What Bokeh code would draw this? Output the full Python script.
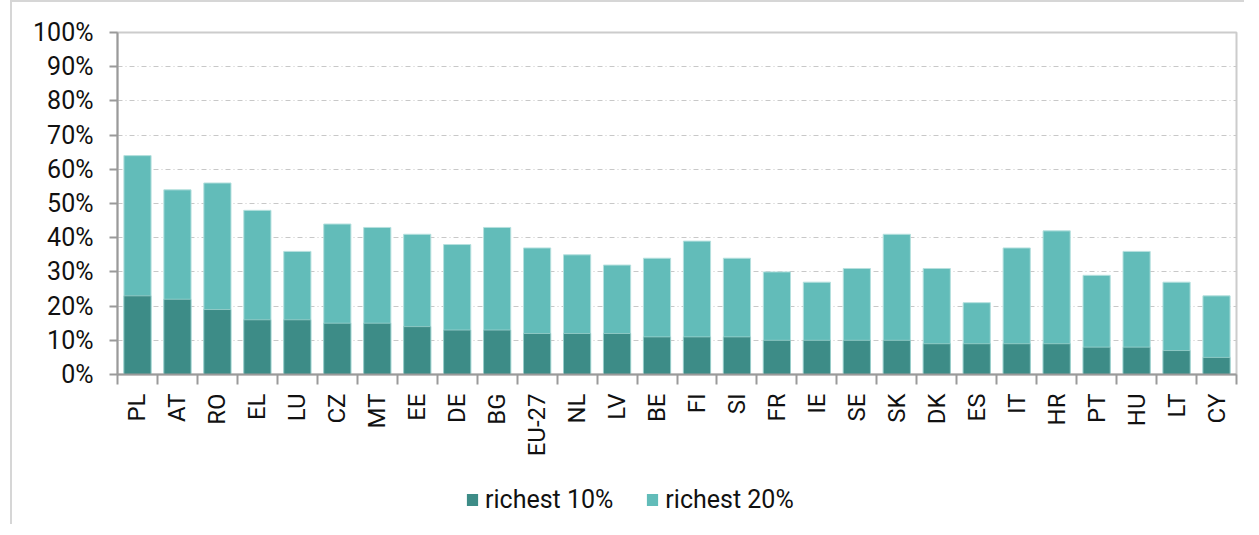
from bokeh.plotting import figure
from bokeh.layouts import column
from bokeh.models import (FixedTicker, PrintfTickFormatter, CustomJSTickFormatter,
                          Legend, LegendItem, ColumnDataSource, Range1d)
from bokeh.embed import file_html
from bokeh.resources import INLINE

countries = ["PL", "AT", "RO", "EL", "LU", "CZ", "MT", "EE", "DE", "BG", "EU-27", "NL", "LV", "BE",
             "FI", "SI", "FR", "IE", "SE", "SK", "DK", "ES", "IT", "HR", "PT", "HU", "LT", "CY"]
richest_10 = [23, 22, 19, 16, 16, 15, 15, 14, 13, 13, 12, 12, 12, 11,
              11, 11, 10, 10, 10, 10, 9, 9, 9, 9, 8, 8, 7, 5]
richest_20 = [64, 54, 56, 48, 36, 44, 43, 41, 38, 43, 37, 35, 32, 34,
              39, 34, 30, 27, 31, 41, 31, 21, 37, 42, 29, 36, 27, 23]
y_ticks = list(range(0, 101, 10))

n = len(countries)
xpos = [i + 0.5 for i in range(n)]
src = ColumnDataSource(dict(x=xpos, r10=richest_10, r20=richest_20, c=countries))

FONT = "Roboto"
C10 = "#3d8c87"
C20 = "#62bcb9"
BORDER = "2px solid #d6d6d6"

p = figure(frame_width=1117, frame_height=340,
           x_range=Range1d(0, n), y_range=Range1d(0, 100),
           output_backend="svg", toolbar_location=None,
           min_border_left=105, min_border_top=30, min_border_right=10, min_border_bottom=90)
p.styles = {"margin-left": "10px", "border-left": BORDER, "border-top": BORDER}

r20 = p.vbar(x="x", top="r20", width=0.68, source=src,
             fill_color=C20, line_color="#b5e0de", line_width=1)
r10 = p.vbar(x="x", top="r10", width=0.68, source=src,
             fill_color=C10, line_color="#9fd3cf", line_width=0.8)

# x axis
xa = p.xaxis[0]
xa.ticker = FixedTicker(ticks=xpos, minor_ticks=list(range(n + 1)))
xa.formatter = CustomJSTickFormatter(args=dict(labels=countries),
                                     code="return labels[Math.floor(tick)] || '';")
xa.major_tick_line_color = None
xa.major_tick_out = 10
xa.major_tick_in = 0
xa.minor_tick_out = 10
xa.minor_tick_in = 0
xa.minor_tick_line_color = "#9a9a9a"
xa.minor_tick_line_width = 2
xa.axis_line_color = "#9a9a9a"
xa.axis_line_width = 2
xa.major_label_orientation = 3.14159265 / 2
xa.major_label_standoff = 9
xa.major_label_text_font = FONT
xa.major_label_text_font_size = "24px"
xa.major_label_text_color = "#111111"

# y axis
ya = p.yaxis[0]
ya.ticker = FixedTicker(ticks=y_ticks)
ya.formatter = PrintfTickFormatter(format="%d%%")
ya.major_tick_out = 8
ya.major_tick_in = 0
ya.major_tick_line_color = "#9a9a9a"
ya.major_tick_line_width = 2
ya.minor_tick_line_color = None
ya.axis_line_color = "#9a9a9a"
ya.axis_line_width = 2
ya.major_label_standoff = 16
ya.major_label_text_font = FONT
ya.major_label_text_font_size = "25px"
ya.major_label_text_color = "#111111"

p.xgrid.visible = False
p.ygrid.grid_line_color = "#c8c8c8"
p.ygrid.grid_line_dash = "5 3 1 3"
p.ygrid.grid_line_width = 1

p.outline_line_color = "#cccccc"
p.outline_line_width = 2

# legend strip below the chart
leg_h = 62
q = figure(width=1232, height=leg_h, x_range=Range1d(0, n), y_range=Range1d(1000, 1001),
           output_backend="svg", toolbar_location=None,
           x_axis_location=None, y_axis_location=None,
           min_border_left=0, min_border_right=0, min_border_top=0, min_border_bottom=0)
q.styles = {"margin-left": "10px", "border-left": BORDER}
q.outline_line_color = None
q.xgrid.visible = False
q.ygrid.visible = False
l10 = q.vbar(x="x", top="r10", width=0.68, source=src, fill_color=C10, line_color=None)
l20 = q.vbar(x="x", top="r20", width=0.68, source=src, fill_color=C20, line_color=None)

legend = Legend(items=[LegendItem(label="richest 10%", renderers=[l10]),
                       LegendItem(label="richest 20%", renderers=[l20])],
                location=(348, 10), orientation="horizontal",
                glyph_width=14, glyph_height=15, label_standoff=6, spacing=32,
                padding=0, margin=0, border_line_color=None, background_fill_alpha=0,
                label_text_font=FONT, label_text_font_size="25px", label_text_color="#111111")
q.add_layout(legend, "center")

layout = column(p, q, spacing=0)
open("out.html", "w").write(file_html(layout, INLINE))
